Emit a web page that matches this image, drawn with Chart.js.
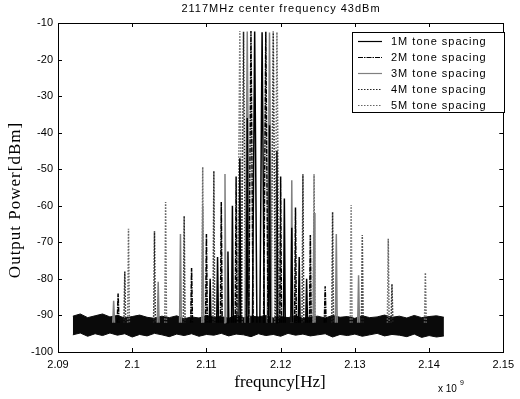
<!DOCTYPE html>
<html>
<head>
<meta charset="utf-8">
<script src="https://cdn.jsdelivr.net/npm/chart.js@4.4.1/dist/chart.umd.min.js"></script>
<style>
  html, body { margin: 0; padding: 0; background: #fff; }
  #wrap { width: 520px; height: 399px; }
</style>
</head>
<body>
<div id="wrap"><canvas id="mycanvas" width="520" height="399"></canvas></div>
<script>
// axis ticks
var xTicks = [2.09, 2.1, 2.11, 2.12, 2.13, 2.14, 2.15];
var yTicks = [-100, -90, -80, -70, -60, -50, -40, -30, -20, -10];

// spectral lines, frequency in MHz, peak in dBm
var freq1M = [2110.5, 2111.5, 2112.9, 2113.5, 2114.5, 2115.5, 2116.5, 2117.5, 2118.5, 2119.5, 2120.5, 2121.5, 2122.5, 2123.5];
var peak1M = [-80, -74, -72.5, -60, -47, -36, -12.3, -12.5, -38, -45, -58, -66, -74, -80];

var freq2M = [2098.1, 2108, 2110, 2112, 2114, 2116, 2118, 2120, 2122, 2124, 2126];
var peak2M = [-84, -77, -67.7, -59, -52, -12.2, -12.4, -52, -60.5, -68, -82];

var freq3M = [2097.5, 2103.5, 2106.5, 2109.5, 2112.5, 2115.5, 2118.5, 2121.5, 2124.5, 2127.5, 2130.5];
var peak3M = [-86, -80.8, -67.7, -60, -51.3, -12.3, -12.6, -53, -62, -67.7, -79];

var freq4M = [2099, 2103, 2107, 2111, 2115, 2119, 2123, 2127, 2131, 2135];
var peak4M = [-78, -67, -62.8, -50.5, -12.4, -12.3, -51.4, -61.7, -68, -81.4];

var freq5M = [2099.5, 2104.5, 2109.5, 2114.5, 2119.5, 2124.5, 2129.5, 2134.5, 2139.5];
var peak5M = [-66.3, -59, -49.4, -12.2, -12.5, -51.4, -59.8, -69, -78.3];

// noise floor band edges
var noiseFreq = [2092, 2093, 2094, 2095, 2096, 2097, 2098, 2099, 2100, 2101,
                 2102, 2103, 2104, 2105, 2106, 2107, 2108, 2109, 2110, 2111,
                 2112, 2113, 2114, 2115, 2116, 2117, 2118, 2119, 2120, 2121,
                 2122, 2123, 2124, 2125, 2126, 2127, 2128, 2129, 2130, 2131,
                 2132, 2133, 2134, 2135, 2136, 2137, 2138, 2139, 2140, 2141, 2142];
var noiseTop = [-90.2, -89.6, -90.6, -90.1, -89.6, -90.4, -90.0, -90.7, -90.3, -89.9,
                -90.5, -90.8, -90.2, -90.6, -90.1, -90.9, -90.4, -90.7, -90.0, -90.5,
                -90.3, -90.8, -89.9, -90.6, -90.2, -90.4, -90.0, -90.7, -90.3, -90.6,
                -90.1, -90.8, -90.4, -90.2, -90.7, -90.0, -90.5, -90.3, -90.8, -90.1,
                -90.6, -90.4, -89.9, -90.5, -90.2, -90.7, -90.0, -90.6, -90.3, -90.1, -90.5];
var noiseBottom = [-95.3, -94.8, -95.7, -95.0, -95.5, -94.8, -95.4, -95.0, -95.9, -95.2,
                   -95.6, -94.9, -95.3, -95.8, -95.1, -95.5, -95.0, -95.7, -95.2, -95.4,
                   -94.9, -95.6, -95.1, -95.3, -95.8, -95.0, -95.5, -95.2, -95.7, -94.9,
                   -95.4, -95.1, -95.6, -95.3, -95.0, -95.9, -95.2, -95.5, -95.1, -95.7,
                   -95.3, -94.9, -95.6, -95.2, -95.4, -95.8, -95.1, -96.0, -95.5, -95.9, -95.6];

var spikeBase = -92;

function spikes(freqs, peaks) {
	var pts = [];
	for (var i = 0; i < freqs.length; i++) {
		var x = freqs[i] / 1000;
		// carriers get a wider skirt than the intermod lines
		var w = (peaks[i] > -20 ? 0.3 : 0.12) / 1000;
		pts.push({x: x - w, y: spikeBase});
		pts.push({x: x, y: peaks[i]});
		pts.push({x: x + w, y: spikeBase});
		pts.push({x: x, y: null});
	}
	return pts;
}

function edge(vals) {
	var pts = [];
	for (var i = 0; i < noiseFreq.length; i++) {
		pts.push({x: noiseFreq[i] / 1000, y: vals[i]});
	}
	return pts;
}

var series = [
	{label: '1M tone spacing', data: spikes(freq1M, peak1M), borderColor: '#000', borderDash: [], borderWidth: 1.5, order: 1},
	{label: '2M tone spacing', data: spikes(freq2M, peak2M), borderColor: '#000', borderDash: [5, 1, 1.5, 1], borderWidth: 1.5, order: 2},
	{label: '3M tone spacing', data: spikes(freq3M, peak3M), borderColor: '#808080', borderDash: [], borderWidth: 1.5, order: 3},
	{label: '4M tone spacing', data: spikes(freq4M, peak4M), borderColor: '#222', borderDash: [1.5, 1.5], borderWidth: 1.5, order: 4},
	{label: '5M tone spacing', data: spikes(freq5M, peak5M), borderColor: '#666', borderDash: [1.5, 1.5], borderWidth: 1.5, order: 5}
];
series.forEach(function(s) { s.legend = true; });

var datasets = series.concat([
	{label: 'noise top', data: edge(noiseTop), borderColor: '#0a0a0a', backgroundColor: '#0a0a0a', borderWidth: 1, fill: '+1', order: 10},
	{label: 'noise bottom', data: edge(noiseBottom), borderColor: '#0a0a0a', borderWidth: 1, fill: false, order: 11}
]);

var tickFont = {family: 'Liberation Sans', size: 11};

var framePlugin = {
	id: 'frame',
	afterDraw: function(chart) {
		var ctx = chart.ctx;
		var a = chart.chartArea;
		var xs = chart.scales.x, ys = chart.scales.y;
		ctx.save();
		ctx.strokeStyle = '#000';
		ctx.lineWidth = 1;
		ctx.strokeRect(Math.round(a.left) + 0.5, Math.round(a.top) + 0.5, Math.round(a.right - a.left), Math.round(a.bottom - a.top));
		// inward ticks
		ctx.beginPath();
		xTicks.forEach(function(v) {
			var px = Math.round(xs.getPixelForValue(v)) + 0.5;
			ctx.moveTo(px, a.bottom); ctx.lineTo(px, a.bottom - 4);
			ctx.moveTo(px, a.top); ctx.lineTo(px, a.top + 4);
		});
		yTicks.forEach(function(v) {
			var py = Math.round(ys.getPixelForValue(v)) + 0.5;
			ctx.moveTo(a.left, py); ctx.lineTo(a.left + 4, py);
			ctx.moveTo(a.right, py); ctx.lineTo(a.right - 4, py);
		});
		ctx.stroke();

		// title
		ctx.fillStyle = '#000';
		ctx.textAlign = 'center';
		ctx.textBaseline = 'middle';
		ctx.font = '11px "Liberation Sans"';
		ctx.letterSpacing = '1px';
		ctx.fillText('2117MHz center frequency 43dBm', 281, 9);

		// axis titles
		ctx.letterSpacing = '0px';
		ctx.font = '17px "Liberation Serif"';
		ctx.fillText('frequncy[Hz]', 280, 383);
		ctx.save();
		ctx.translate(16, 200);
		ctx.rotate(-Math.PI / 2);
		ctx.letterSpacing = '1px';
		ctx.fillText('Output Power[dBm]', 0, 0);
		ctx.restore();

		// multiplier
		ctx.font = '10px "Liberation Sans"';
		ctx.textAlign = 'left';
		ctx.fillText('x 10', 438, 389);
		ctx.font = '7px "Liberation Sans"';
		ctx.fillText('9', 460, 383);

		// legend
		var lx = 352, ly = 32, lw = 152, lh = 80;
		ctx.fillStyle = '#fff';
		ctx.fillRect(lx, ly, lw, lh);
		ctx.strokeStyle = '#000';
		ctx.strokeRect(lx + 0.5, ly + 0.5, lw, lh);
		ctx.font = '11px "Liberation Sans"';
		ctx.letterSpacing = '1px';
		ctx.textBaseline = 'middle';
		var row = 0;
		chart.data.datasets.forEach(function(ds) {
			if (!ds.legend) return;
			var y = ly + 9.5 + row * 16;
			ctx.strokeStyle = ds.borderColor;
			ctx.setLineDash(ds.borderDash);
			ctx.lineWidth = 1.2;
			ctx.beginPath();
			ctx.moveTo(358, y); ctx.lineTo(382, y);
			ctx.stroke();
			ctx.setLineDash([]);
			ctx.fillStyle = '#000';
			ctx.fillText(ds.label, 391, y);
			row++;
		});
		ctx.restore();
	}
};

var ctx = document.getElementById('mycanvas');
var chart = new Chart(ctx, {
	type: 'line',
	data: {datasets: datasets},
	options: {
		responsive: false,
		animation: false,
		spanGaps: false,
		layout: {padding: {top: 23, right: 13, left: 0, bottom: 0}},
		elements: {point: {radius: 0}, line: {tension: 0}},
		plugins: {legend: {display: false}, tooltip: {enabled: false}, title: {display: false}},
		scales: {
			x: {
				type: 'linear', min: 2.09, max: 2.15,
				afterBuildTicks: function(s) { s.ticks = xTicks.map(function(v) { return {value: v}; }); },
				afterFit: function(s) { s.height = 47; },
				grid: {display: false, drawTicks: false},
				border: {display: false},
				ticks: {font: tickFont, color: '#000', padding: 6, maxRotation: 0, autoSkip: false,
					callback: function(v) { return String(v); }}
			},
			y: {
				type: 'linear', min: -100, max: -10,
				afterBuildTicks: function(s) { s.ticks = yTicks.map(function(v) { return {value: v}; }); },
				afterFit: function(s) { s.width = 58; },
				grid: {display: false, drawTicks: false},
				border: {display: false},
				ticks: {font: tickFont, color: '#000', padding: 5, autoSkip: false,
					callback: function(v) { return String(v); }}
			}
		}
	},
	plugins: [framePlugin]
});
</script>
</body>
</html>
